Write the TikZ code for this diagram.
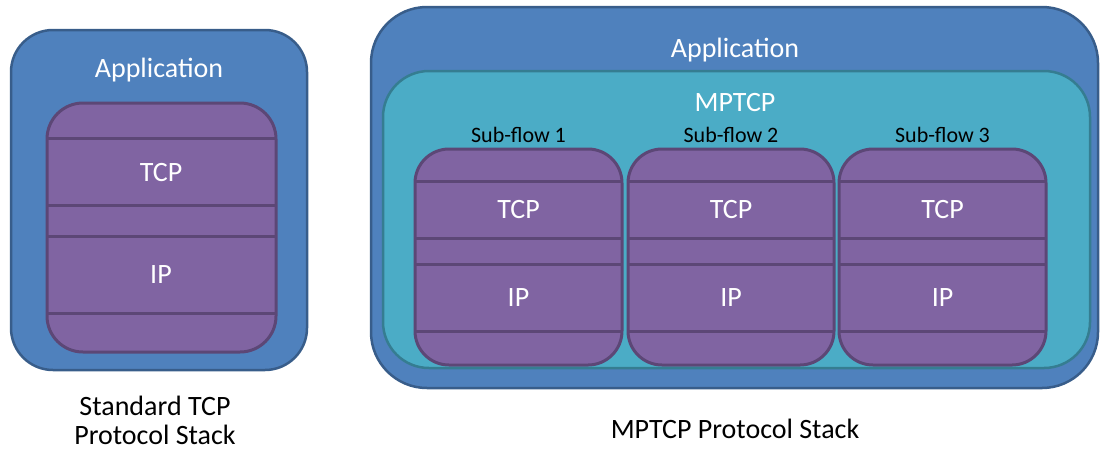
\documentclass[tikz,border=0pt]{standalone}
\usepackage{fontspec}
\setmainfont{Carlito}
\definecolor{appfill}{HTML}{4F81BD}
\definecolor{appline}{HTML}{385D8A}
\definecolor{mpfill}{HTML}{4BACC6}
\definecolor{mpline}{HTML}{357D91}
\definecolor{tcpfill}{HTML}{8064A2}
\definecolor{tcpline}{HTML}{5C4776}
\tikzset{
  appbox/.style={fill=appfill,draw=appline,line width=2.5pt},
  mpbox/.style={fill=mpfill,draw=mpline,line width=2.5pt},
  stackbox/.style={fill=tcpfill,draw=tcpline,line width=3pt},
  sep/.style={draw=tcpline,line width=3pt},
  whitelbl/.style={text=white,font=\fontsize{28}{32}\selectfont,inner sep=0pt},
  flowlbl/.style={text=black,font=\fontsize{22}{26}\selectfont,inner sep=0pt},
  caption/.style={text=black,font=\fontsize{28}{32}\selectfont,inner sep=0pt,anchor=base}
}
% a layered protocol stack: #1 left, #2 right, #3 top, #4 bottom,
% #5..#8 separator heights, #9 corner radius
\newcommand{\protostack}[9]{%
  \draw[stackbox,rounded corners=#9pt] (#1,#3) rectangle (#2,#4);
  \foreach \yy in {#5,#6,#7,#8}{\draw[sep] (#1,\yy) -- (#2,\yy);}
}
\begin{document}
\begin{tikzpicture}[x=1pt,y=-1pt]
\useasboundingbox (0,0) rectangle (1102,451);

% standard TCP stack
\draw[appbox,rounded corners=42pt] (11,30) rectangle (307,370);
\node[whitelbl] (app1) at (159,70) {Application};
\protostack{47}{276}{103}{352}{138}{205}{236}{313}{36}
\node[whitelbl] (tcp1) at (161,173) {TCP};
\node[whitelbl] (ip1) at (161,275) {IP};
\node[caption] (cap1a) at (155,415) {Standard TCP};
\node[caption] (cap1b) at (155,444) {Protocol Stack};

% MPTCP stack
\draw[appbox,rounded corners=56pt] (371,7) rectangle (1098,388);
\node[whitelbl] (app2) at (735,50) {Application};
\draw[mpbox,rounded corners=46pt] (383,71) rectangle (1090,368);
\node[whitelbl] (mptcp) at (735,103) {MPTCP};

\foreach \i/\l/\r in {1/415/622, 2/628/834, 3/839/1046}{
  \protostack{\l}{\r}{149}{365}{181}{238}{264}{331}{34}
  \node[flowlbl] (flow\i) at ({(\l+\r)/2},135) {Sub-flow \i};
  \node[whitelbl] (tcpf\i) at ({(\l+\r)/2},210) {TCP};
  \node[whitelbl] (ipf\i) at ({(\l+\r)/2},298) {IP};
}
\node[caption] (cap2) at (735,438) {MPTCP Protocol Stack};
\end{tikzpicture}
\end{document}
